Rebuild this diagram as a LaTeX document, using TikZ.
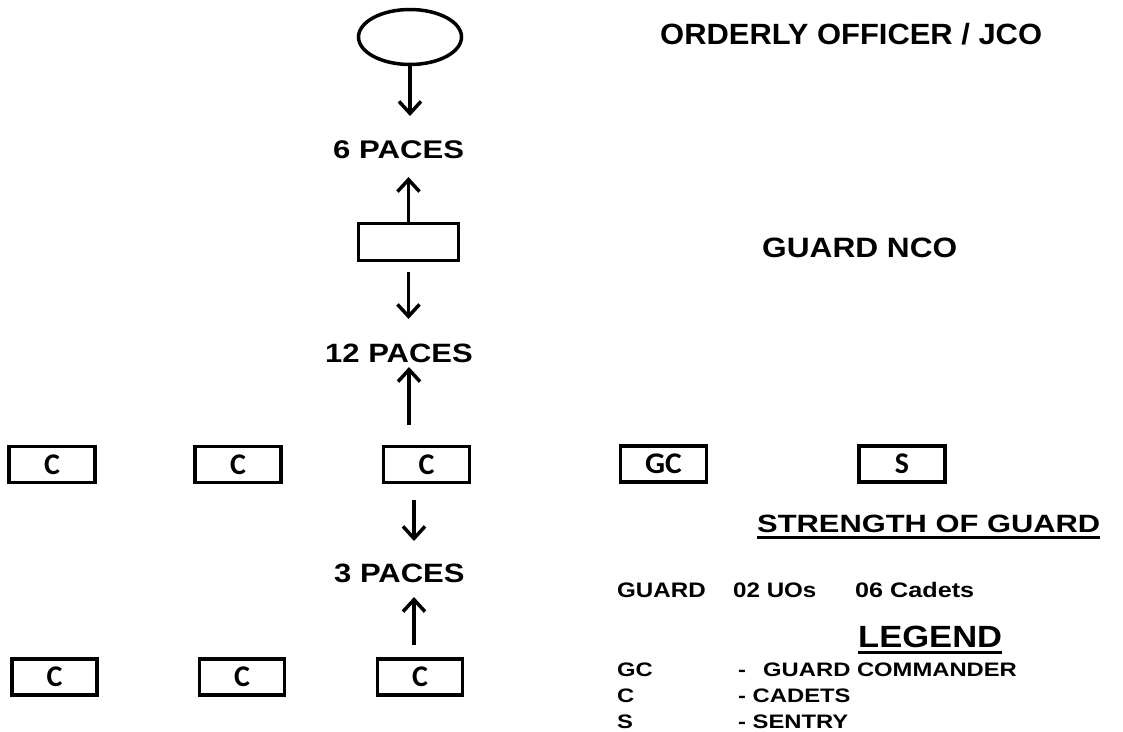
\documentclass[tikz,border=0pt]{standalone}
\usepackage{graphicx}
\usepackage{fontspec}
\setmainfont{Liberation Sans}
\newfontfamily\boxfont{Carlito}
\usetikzlibrary{arrows.meta,shapes.geometric}
\newcommand{\txt}[3]{\scalebox{#2}[1]{\fontsize{#1}{#1}\selectfont\bfseries #3}}
\newcommand{\btxt}[3]{\scalebox{#2}[1]{\fontsize{#1}{#1}\selectfont\boxfont\bfseries #3}}
\tikzset{
  lbl/.style={inner sep=0pt, anchor=base west},
  sbox/.style={draw, line width=3.5pt, inner sep=0pt, minimum width=86pt, minimum height=36pt},
  arr/.style={line width=3.5pt, -{Straight Barb[length=12pt,width=22pt]}},
  uline/.style={line width=2.5pt}
}
\begin{document}
\begin{tikzpicture}[x=1pt,y=-1pt]
\useasboundingbox[fill=white] (0,0) rectangle (1123,731);
% top figure
\node[draw, ellipse, line width=3.5pt, inner sep=0pt, minimum width=103pt, minimum height=55pt] (oo) at (410,37) {};
\node[sbox, minimum width=100pt, minimum height=37pt] (nco) at (408.5,242) {};
% pace labels
\node[lbl] (p6) at (333,158) {\txt{25.5}{1.22}{6 PACES}};
\node[lbl] (p12) at (325,362) {\txt{26.5}{1.17}{12 PACES}};
\node[lbl] (p3) at (334,582) {\txt{26.5}{1.17}{3 PACES}};
% titles
\node[lbl] (oot) at (660,44) {\txt{29.3}{1.055}{ORDERLY OFFICER / JCO}};
\node[lbl] (ncot) at (762,257) {\txt{28}{1.13}{GUARD NCO}};
% boxes row 1
\node[sbox] (c1) at (52,464.5) {\btxt{30}{1.0}{C}};
\node[sbox] (c2) at (238,464.5) {\btxt{30}{1.0}{C}};
\node[sbox] (c3) at (426.5,464.5) {\btxt{30}{1.0}{C}};
\node[sbox] (gc) at (663.5,464) {\btxt{30}{1.05}{GC}};
\node[sbox] (s) at (902,464) {\btxt{30}{1.0}{S}};
% boxes row 2
\node[sbox, minimum width=85pt] (c4) at (54.5,677) {\btxt{30}{1.0}{C}};
\node[sbox, minimum width=85pt] (c5) at (242,677) {\btxt{30}{1.0}{C}};
\node[sbox, minimum width=85pt] (c6) at (420,677) {\btxt{30}{1.0}{C}};
% arrows
\coordinate (t1) at (410,116);
\coordinate (t2) at (408.5,177);
\coordinate (s3) at (408.5,272);
\coordinate (t3) at (408.5,319);
\coordinate (s4) at (409,425);
\coordinate (t4) at (409,367);
\coordinate (s5) at (414,500);
\coordinate (t5) at (414,541);
\coordinate (s6) at (414,645);
\coordinate (t6) at (414,597);
\draw[arr] (oo.south) -- (t1);
\draw[arr] (nco.north) -- (t2);
\draw[arr] (s3) -- (t3);
\draw[arr] (s4) -- (t4);
\draw[arr] (s5) -- (t5);
\draw[arr] (s6) -- (t6);
% strength of guard
\node[lbl] (sog) at (757,532) {\txt{25}{1.235}{STRENGTH OF GUARD}};
\draw[uline] ([yshift=-5pt]sog.south west) -- ([yshift=-5pt]sog.south east);
\node[lbl] (g1) at (617,597) {\txt{21}{1.15}{GUARD}};
\node[lbl] (g2) at (733,597) {\txt{21}{1.15}{02 UOs}};
\node[lbl] (g3) at (855,597) {\txt{21}{1.2}{06 Cadets}};
% legend
\node[lbl] (leg) at (858,647) {\txt{30.7}{1.125}{LEGEND}};
\draw[uline] ([yshift=-5pt]leg.south west) -- ([yshift=-5pt]leg.south east);
\node[lbl] (l1a) at (617,676) {\txt{19.5}{1.22}{GC}};
\node[lbl] (l1b) at (738,676) {\txt{19.5}{1.22}{-}};
\node[lbl] (l1c) at (763,676) {\txt{19.5}{1.22}{GUARD COMMANDER}};
\node[lbl] (l2a) at (617,702) {\txt{19.5}{1.22}{C}};
\node[lbl] (l2b) at (738,702) {\txt{19.5}{1.22}{- CADETS}};
\node[lbl] (l3a) at (617,728) {\txt{19.5}{1.22}{S}};
\node[lbl] (l3b) at (738,728) {\txt{19.5}{1.22}{- SENTRY}};
\end{tikzpicture}
\end{document}
